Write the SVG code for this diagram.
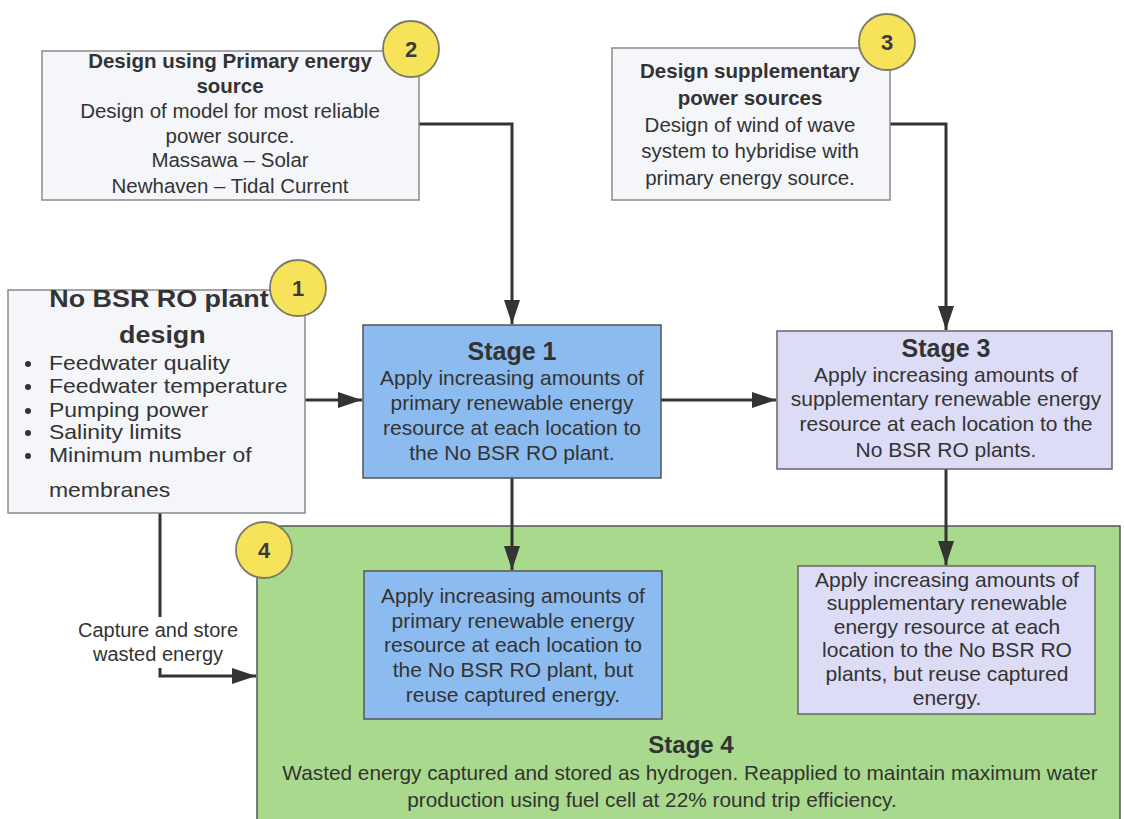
<svg xmlns="http://www.w3.org/2000/svg" width="1124" height="819" viewBox="0 0 1124 819">
<style>
  text { font-family: "Liberation Sans", Arial, sans-serif; fill: #333; }
  .c { text-anchor: middle; }
  .b { font-weight: bold; }
  .box { fill: #f4f6f9; stroke: #8a8a8a; stroke-width: 1.5; }
  .blue { fill: #8cbcef; stroke: #555; stroke-width: 1.5; }
  .lav { fill: #dddcf6; stroke: #666; stroke-width: 1.5; }
  .green { fill: #a9d98c; stroke: #555; stroke-width: 1.5; }
  .badge { fill: #f6e35a; stroke: #7d7a66; stroke-width: 1.8; }
  .num { font-size: 22px; font-weight: bold; text-anchor: middle; fill: #3a3a3a; }
  .t20 { font-size: 20.5px; }
  .t21 { font-size: 21px; }
  .st { font-size: 25px; font-weight: bold; }
  .conn { fill: none; stroke: #333; stroke-width: 3; }
</style>
<defs>
  <marker id="ah" markerWidth="24" markerHeight="18" refX="24" refY="9" orient="auto" markerUnits="userSpaceOnUse">
    <path d="M0,1 L24,9 L0,17 z" fill="#333"/>
  </marker>
</defs>
<rect width="1124" height="819" fill="#ffffff"/>

<g id="stage4">
  <rect class="green" x="257" y="526" width="863" height="310"/>
  <text class="c b" x="691" y="753" font-size="24">Stage 4</text>
  <text class="c" x="690" y="780" font-size="20.8">Wasted energy captured and stored as hydrogen. Reapplied to maintain maximum water</text>
  <text class="c" x="652" y="807" font-size="20.8">production using fuel cell at 22% round trip efficiency.</text>
</g>

<g id="connectors">
  <path class="conn" d="M419,124 H512 V324" marker-end="url(#ah)"/>
  <path class="conn" d="M890,124 H946 V330" marker-end="url(#ah)"/>
  <path class="conn" d="M305,400 H362" marker-end="url(#ah)"/>
  <path class="conn" d="M661,400 H776" marker-end="url(#ah)"/>
  <path class="conn" d="M512,478 V570" marker-end="url(#ah)"/>
  <path class="conn" d="M946,469 V565" marker-end="url(#ah)"/>
  <path class="conn" d="M160,513 V617"/>
  <path class="conn" d="M160,668 V676 H256" marker-end="url(#ah)"/>
  <text class="c" x="158" y="637" font-size="20">Capture and store</text>
  <text class="c" x="158" y="661" font-size="20">wasted energy</text>
</g>

<g id="node1">
  <rect class="box" x="8" y="290" width="297" height="223"/>
  <g transform="scale(1.12,1)">
    <text class="c b" x="142" y="307" font-size="24">No BSR RO plant</text>
    <text class="c b" x="145" y="343" font-size="24">design</text>
    <text x="43.75" y="370" font-size="20.5">Feedwater quality</text>
    <text x="43.75" y="393" font-size="20.5">Feedwater temperature</text>
    <text x="43.75" y="417" font-size="20.5">Pumping power</text>
    <text x="43.75" y="439" font-size="20.5">Salinity limits</text>
    <text x="43.75" y="462" font-size="20.5">Minimum number of</text>
    <text x="43.75" y="497" font-size="20.5">membranes</text>
  </g>
  <g fill="#333">
    <circle cx="28" cy="364" r="3"/>
    <circle cx="28" cy="387" r="3"/>
    <circle cx="28" cy="411" r="3"/>
    <circle cx="28" cy="433" r="3"/>
    <circle cx="28" cy="456" r="3"/>
  </g>
  <circle class="badge" cx="298" cy="288" r="28"/>
  <text class="num" x="298" y="296">1</text>
</g>

<g id="node2">
  <rect class="box" x="42" y="51" width="377" height="149"/>
  <text class="c b t20" x="230" y="68">Design using Primary energy</text>
  <text class="c b t20" x="230" y="93">source</text>
  <text class="c t20" x="230" y="118">Design of model for most reliable</text>
  <text class="c t20" x="230" y="143">power source.</text>
  <text class="c t20" x="230" y="167">Massawa – Solar</text>
  <text class="c t20" x="230" y="193">Newhaven – Tidal Current</text>
  <circle class="badge" cx="411" cy="49" r="28"/>
  <text class="num" x="411" y="57">2</text>
</g>

<g id="node3">
  <rect class="box" x="612" y="48" width="278" height="152"/>
  <text class="c b t20" x="750" y="78">Design supplementary</text>
  <text class="c b t20" x="750" y="105">power sources</text>
  <text class="c t20" x="750" y="132">Design of wind of wave</text>
  <text class="c t20" x="750" y="158">system to hybridise with</text>
  <text class="c t20" x="750" y="185">primary energy source.</text>
  <circle class="badge" cx="887" cy="42" r="28"/>
  <text class="num" x="887" y="50">3</text>
</g>

<g id="stage1">
  <rect class="blue" x="363" y="325" width="298" height="153"/>
  <text class="c st" x="512" y="360">Stage 1</text>
  <text class="c t21" x="512" y="385">Apply increasing amounts of</text>
  <text class="c t21" x="512" y="410">primary renewable energy</text>
  <text class="c t21" x="512" y="435">resource at each location to</text>
  <text class="c t21" x="512" y="460">the No BSR RO plant.</text>
</g>

<g id="stage3">
  <rect class="lav" x="777" y="331" width="335" height="138"/>
  <text class="c st" x="946" y="357">Stage 3</text>
  <text class="c t21" x="946" y="382">Apply increasing amounts of</text>
  <text class="c t21" x="946" y="406">supplementary renewable energy</text>
  <text class="c t21" x="946" y="431">resource at each location to the</text>
  <text class="c t21" x="946" y="457">No BSR RO plants.</text>
</g>

<g id="stage1b">
  <rect class="blue" x="364" y="571" width="298" height="148"/>
  <text class="c t21" x="513" y="603">Apply increasing amounts of</text>
  <text class="c t21" x="513" y="628">primary renewable energy</text>
  <text class="c t21" x="513" y="652">resource at each location to</text>
  <text class="c t21" x="513" y="677">the No BSR RO plant, but</text>
  <text class="c t21" x="513" y="702">reuse captured energy.</text>
</g>

<g id="stage3b">
  <rect class="lav" x="798" y="566" width="297" height="148"/>
  <text class="c t21" x="947" y="587">Apply increasing amounts of</text>
  <text class="c t21" x="947" y="610">supplementary renewable</text>
  <text class="c t21" x="947" y="634">energy resource at each</text>
  <text class="c t21" x="947" y="657">location to the No BSR RO</text>
  <text class="c t21" x="947" y="681">plants, but reuse captured</text>
  <text class="c t21" x="947" y="705">energy.</text>
</g>

<g id="badge4">
  <circle class="badge" cx="264" cy="550" r="28"/>
  <text class="num" x="264" y="558">4</text>
</g>
</svg>
